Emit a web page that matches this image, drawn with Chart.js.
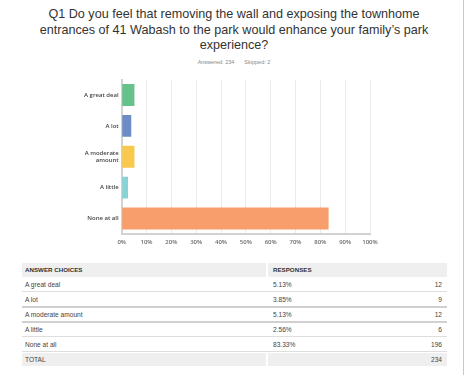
<!DOCTYPE html>
<html>
<head>
<meta charset="utf-8">
<script src="https://cdn.jsdelivr.net/npm/chart.js@4/dist/chart.umd.min.js"></script>
<style>
  html, body { margin:0; padding:0; background:#fff; }
  body { width:468px; height:375px; position:relative; overflow:hidden; font-family:"Liberation Sans", Arial, sans-serif; }
  #title { position:absolute; left:0; top:7px; width:468px; text-align:center; font-size:12.6px; line-height:15.5px; color:#333; }
  #sub { position:absolute; left:0; top:59px; width:468px; text-align:center; font-size:5.5px; color:#888; }
  #sub span { margin:0 5px; }
  #wrap { position:absolute; left:0; top:0; width:468px; height:260px; }
  #rborder { position:absolute; left:463px; top:0; width:1px; height:375px; background:#c8c8c8; }
  .cell { position:absolute; font-size:6.6px; color:#444; white-space:nowrap; }
  .bg { position:absolute; background:#efefef; }
  .line { position:absolute; background:#dcdcdc; }
</style>
</head>
<body>
<div id="title">Q1 Do you feel that removing the wall and exposing the townhome<br>entrances of 41 Wabash to the park would enhance your family’s park<br>experience?</div>
<div id="sub"><span>Answered: 234</span><span>Skipped: 2</span></div>
<div id="wrap"><canvas id="c"></canvas></div>
<div id="table"></div>
<div id="rborder"></div>
<script>
const categories = ['A great deal', 'A lot', 'A moderate amount', 'A little', 'None at all'];
const percents = [5.13, 3.85, 5.13, 2.56, 83.33];
const percentLabels = ['5.13%', '3.85%', '5.13%', '2.56%', '83.33%'];
const counts = [12, 9, 12, 6, 196];
const totalLabel = 'TOTAL';
const totalCount = 234;
const colors = ['#66c28a', '#6d8cc5', '#f9c94e', '#88d3d6', '#f89d6c'];

const chartLabels = categories.map(c => c === 'A moderate amount' ? ['A moderate', 'amount'] : c);

new Chart(document.getElementById('c'), {
  type: 'bar',
  data: {
    labels: chartLabels,
    datasets: [{ data: percents, backgroundColor: colors, borderWidth: 0, categoryPercentage: 1, barPercentage: 0.71 }]
  },
  options: {
    indexAxis: 'y',
    responsive: true,
    maintainAspectRatio: false,
    animation: false,
    events: [],
    layout: { padding: { left: 0, right: 98, top: 79.5, bottom: 10 } },
    plugins: { legend: { display: false }, tooltip: { enabled: false } },
    scales: {
      x: {
        min: 0, max: 100,
        ticks: { stepSize: 10, callback: v => v + '%', color: '#6a6a6a', padding: 5, maxRotation: 0, autoSkip: false,
                 font: { family: '"Open Sans"', size: 6, weight: '600' } },
        grid: { color: '#ebebeb', lineWidth: 1, drawTicks: false },
        border: { display: true, color: '#d2d2d2', width: 2 },
        afterFit: s => { s.height = 16; }
      },
      y: {
        ticks: { color: '#444', padding: 3, font: { family: '"Open Sans"', size: 6, weight: '600', lineHeight: 1.15 } },
        grid: { display: false, drawTicks: false },
        border: { display: true, color: '#d2d2d2', width: 2 },
        afterFit: s => { s.width = 121.7; }
      }
    }
  }
});

// table
const T = document.getElementById('table');
function add(cls, css, text) {
  const d = document.createElement('div');
  d.className = cls;
  Object.assign(d.style, css);
  if (text !== undefined) d.textContent = text;
  T.appendChild(d);
  return d;
}
const L = 22, R = 447, SPLIT = 266;
// header
add('bg', { left: L + 'px', top: '263px', width: (SPLIT - L) + 'px', height: '14px' });
add('bg', { left: (SPLIT + 2) + 'px', top: '263px', width: (R - SPLIT - 2) + 'px', height: '14px' });
add('cell', { left: '25px', top: '266px', fontWeight: 'bold', color: '#333', fontSize: '6.2px' }, 'ANSWER CHOICES');
add('cell', { left: '273px', top: '266px', fontWeight: 'bold', color: '#333', fontSize: '6.2px' }, 'RESPONSES');
const rowTop = 277, rowH = 15;
const sepW = [1, 2, 2, 1, 1];
categories.forEach((c, i) => {
  const y = rowTop + i * rowH;
  add('cell', { left: '25px', top: (y + 4) + 'px' }, c);
  add('cell', { left: '273px', top: (y + 4) + 'px' }, percentLabels[i]);
  add('cell', { left: (R - 40) + 'px', width: '35px', textAlign: 'right', top: (y + 4) + 'px' }, String(counts[i]));
  add('line', { left: L + 'px', top: (y + rowH - 1) + 'px', width: (R - L) + 'px', height: sepW[i] + 'px', background: sepW[i] > 1 ? '#d0d0d0' : '#dedede' });
});
const ty = rowTop + categories.length * rowH + 1;
add('bg', { left: L + 'px', top: ty + 'px', width: (SPLIT - L) + 'px', height: '13px' });
add('bg', { left: (SPLIT + 2) + 'px', top: ty + 'px', width: (R - SPLIT - 2) + 'px', height: '13px' });
add('cell', { left: '25px', top: (ty + 3) + 'px' }, totalLabel);
add('cell', { left: (R - 40) + 'px', width: '35px', textAlign: 'right', top: (ty + 3) + 'px' }, String(totalCount));
</script>
</body>
</html>
